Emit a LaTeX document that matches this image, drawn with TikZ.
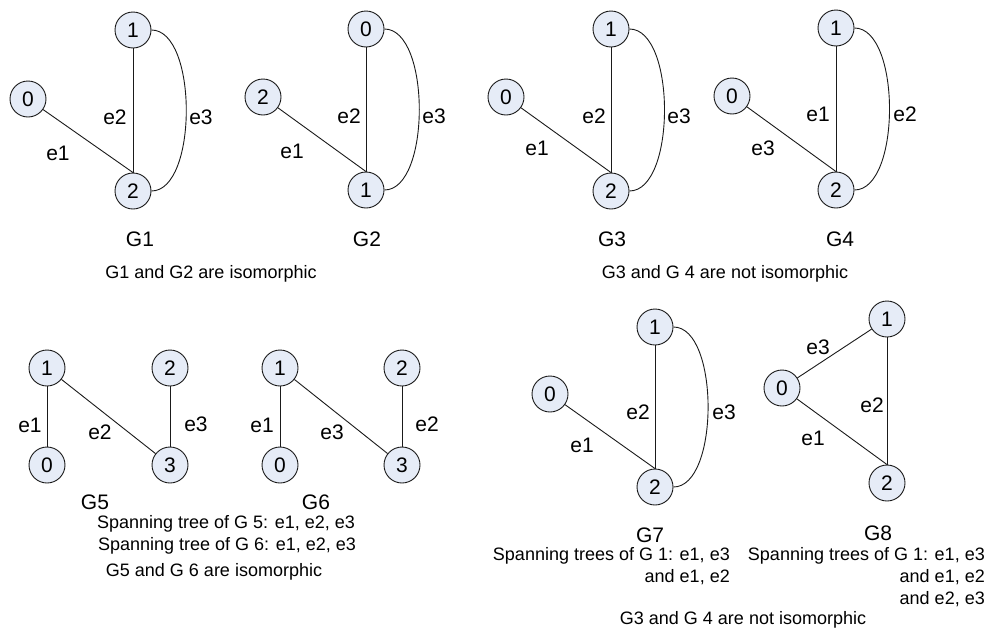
\documentclass[tikz,border=0pt]{standalone}
\usepackage{fontspec}
\setmainfont{Liberation Sans}
\definecolor{nodefill}{HTML}{E6ECF7}
\definecolor{linecol}{HTML}{1A1A1A}
\tikzset{
  vtx/.style={circle, draw=linecol, fill=nodefill, minimum size=36pt, inner sep=0pt, line width=0.9pt, font=\fontsize{21}{21}\selectfont},
  elab/.style={inner sep=0pt, font=\fontsize{21}{21}\selectfont},
  ttl/.style={inner sep=0pt, font=\fontsize{21}{21}\selectfont},
  txt/.style={inner sep=0pt, font=\fontsize{18}{22}\selectfont},
  edg/.style={draw=linecol, line width=0.9pt},
  arcedge/.style={edg, out=0, in=0, looseness=0.74},
}
\begin{document}
\begin{tikzpicture}[x=1pt, y=-1pt]
\useasboundingbox (0,0) rectangle (990,627);
% ---------- G1 ----------
\node[vtx] (a0) at (28,99) {0};
\node[vtx] (a1) at (133,30) {1};
\node[vtx] (a2) at (133,191) {2};
\draw[edg] (a0) -- (a2.north);
\draw[edg] (a1) -- (a2);
\draw[arcedge] (a1.east) to (a2.east);
\node[elab] (a_e1) at (58,153) {e1};
\node[elab] (a_e2) at (115,117) {e2};
\node[elab] (a_e3) at (201,117) {e3};
\node[ttl] (a_t) at (140,239) {G1};
% ---------- G2 ----------
\node[vtx] (b2) at (263,97) {2};
\node[vtx] (b0) at (366,29) {0};
\node[vtx] (b1) at (366,190) {1};
\draw[edg] (b2) -- (b1.north);
\draw[edg] (b0) -- (b1);
\draw[arcedge] (b0.east) to (b1.east);
\node[elab] (b_e1) at (292,151) {e1};
\node[elab] (b_e2) at (349,116) {e2};
\node[elab] (b_e3) at (434,116) {e3};
\node[ttl] (b_t) at (367,239) {G2};
% ---------- G3 ----------
\node[vtx] (c0) at (506,97) {0};
\node[vtx] (c1) at (611,29) {1};
\node[vtx] (c2) at (611,191) {2};
\draw[edg] (c0) -- (c2.north);
\draw[edg] (c1) -- (c2);
\draw[arcedge] (c1.east) to (c2.east);
\node[elab] (c_e1) at (537,148) {e1};
\node[elab] (c_e2) at (594,116) {e2};
\node[elab] (c_e3) at (679,116) {e3};
\node[ttl] (c_t) at (612,239) {G3};
% ---------- G4 ----------
\node[vtx] (d0) at (732,96) {0};
\node[vtx] (d1) at (836,28) {1};
\node[vtx] (d2) at (836,190) {2};
\draw[edg] (d0) -- (d2.north);
\draw[edg] (d1) -- (d2);
\draw[arcedge] (d1.east) to (d2.east);
\node[elab] (d_e3) at (763,148) {e3};
\node[elab] (d_e1) at (818,114) {e1};
\node[elab] (d_e2) at (905,114) {e2};
\node[ttl] (d_t) at (840,239) {G4};
% ---------- top captions ----------
\node[txt] (cap1) at (211,274) {G1 and G2 are isomorphic};
\node[txt] (cap2) at (725,274) {G3 and G 4 are not isomorphic};
% ---------- G5 ----------
\node[vtx] (e1n) at (47,368) {1};
\node[vtx] (e2n) at (170,368) {2};
\node[vtx] (e0n) at (47,465) {0};
\node[vtx] (e3n) at (170,465) {3};
\draw[edg] (e1n) -- (e0n);
\draw[edg] (e1n) -- (e3n);
\draw[edg] (e2n) -- (e3n);
\node[elab] (e_e1) at (30,425) {e1};
\node[elab] (e_e2) at (100,432) {e2};
\node[elab] (e_e3) at (196,424) {e3};
\node[ttl] (e_t) at (95,502) {G5};
% ---------- G6 ----------
\node[vtx] (f1n) at (280,368) {1};
\node[vtx] (f2n) at (402,368) {2};
\node[vtx] (f0n) at (280,465) {0};
\node[vtx] (f3n) at (402,465) {3};
\draw[edg] (f1n) -- (f0n);
\draw[edg] (f1n) -- (f3n);
\draw[edg] (f2n) -- (f3n);
\node[elab] (f_e1) at (262,425) {e1};
\node[elab] (f_e3) at (332,432) {e3};
\node[elab] (f_e2) at (427,424) {e2};
\node[ttl] (f_t) at (316,502) {G6};
% ---------- bottom-left captions ----------
\node[txt] (cap3) at (226,524) {Spanning tree of G 5: e1, e2, e3};
\node[txt] (cap4) at (227,546) {Spanning tree of G 6: e1, e2, e3};
\node[txt] (cap5) at (214,572) {G5 and G 6 are isomorphic};
% ---------- G7 ----------
\node[vtx] (g0) at (550,394) {0};
\node[vtx] (g1) at (655,327) {1};
\node[vtx] (g2) at (655,487) {2};
\draw[edg] (g0) -- (g2.north);
\draw[edg] (g1) -- (g2);
\draw[arcedge] (g1.east) to (g2.east);
\node[elab] (g_e1) at (582,445) {e1};
\node[elab] (g_e2) at (638,412) {e2};
\node[elab] (g_e3) at (724,412) {e3};
\node[ttl] (g_t) at (650,535) {G7};
% ---------- G8 ----------
\node[vtx] (h1) at (887,319) {1};
\node[vtx] (h0) at (782,388) {0};
\node[vtx] (h2) at (887,483) {2};
\draw[edg] (h0) -- (h1);
\draw[edg] (h0) -- (h2.north);
\draw[edg] (h1) -- (h2);
\node[elab] (h_e3) at (818,347) {e3};
\node[elab] (h_e2) at (872,405) {e2};
\node[elab] (h_e1) at (813,438) {e1};
\node[ttl] (h_t) at (878,533) {G8};
% ---------- bottom-right captions ----------
\node[txt, align=right, anchor=north east] (cap6) at (730,547) {Spanning trees of G 1: e1, e3\\and e1, e2};
\node[txt, align=right, anchor=north east] (cap7) at (985,547) {Spanning trees of G 1: e1, e3\\and e1, e2\\and e2, e3};
\node[txt] (cap8) at (743,620) {G3 and G 4 are not isomorphic};
\end{tikzpicture}
\end{document}
